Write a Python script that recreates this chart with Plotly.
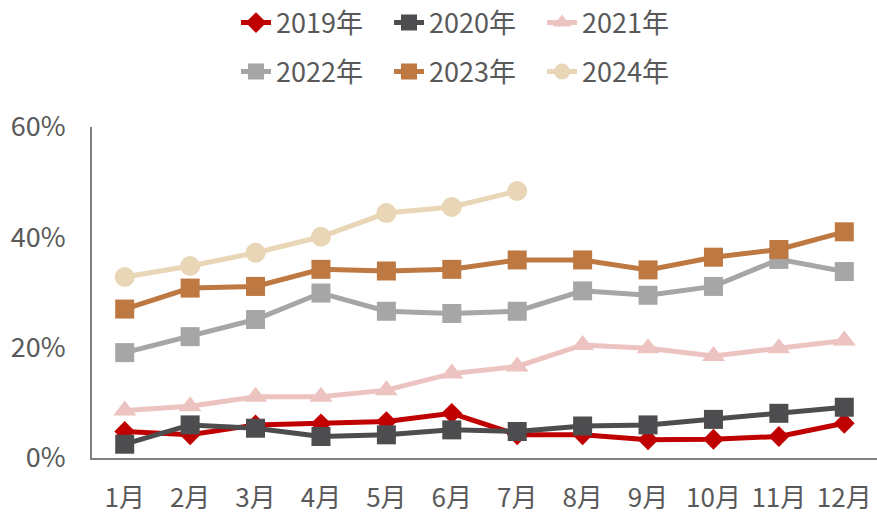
import plotly.graph_objects as go

months = ["1月", "2月", "3月", "4月", "5月", "6月", "7月", "8月", "9月", "10月", "11月", "12月"]

y2019 = [4.8, 4.2, 6.0, 6.2, 6.6, 8.1, 4.2, 4.2, 3.3, 3.4, 3.9, 6.3]
y2020 = [2.5, 6.0, 5.4, 3.9, 4.2, 5.1, 4.8, 5.8, 6.0, 7.0, 8.1, 9.2]
y2021 = [8.6, 9.4, 11.1, 11.1, 12.3, 15.3, 16.6, 20.5, 19.9, 18.5, 19.9, 21.3]
y2022 = [19.1, 22.0, 25.1, 29.9, 26.6, 26.2, 26.6, 30.3, 29.5, 31.1, 36.0, 33.8]
y2023 = [27.0, 30.8, 31.1, 34.2, 33.9, 34.2, 35.9, 35.9, 34.1, 36.4, 37.8, 41.0]
y2024 = [32.8, 34.8, 37.2, 40.1, 44.4, 45.5, 48.4]

series = [
    ("2019年", y2019, "#C00000", "diamond", 16, "legend"),
    ("2020年", y2020, "#4D4D4F", "square", 19, "legend"),
    ("2021年", y2021, "#EDC3C2", "triangle-up", 20, "legend"),
    ("2022年", y2022, "#A6A6A6", "square", 19, "legend2"),
    ("2023年", y2023, "#BE7842", "square", 19, "legend2"),
    ("2024年", y2024, "#E8D6B6", "circle", 20, "legend2"),
]

font_family = "Noto Sans CJK SC, Open Sans, sans-serif"
text_color = "#595959"
fs = 27

W, H = 877, 515
L, T, B = 92, 127, 57
plot_w, plot_h = W - L, H - T - B

fig = go.Figure()
for name, vals, color, symbol, size, lg in series:
    fig.add_trace(go.Scatter(
        x=months[:len(vals)], y=[v / 100 for v in vals], name=name,
        mode="lines+markers", legend=lg,
        line=dict(color=color, width=5),
        marker=dict(color=color, symbol=symbol, size=size),
    ))

legend_common = dict(
    orientation="h", xanchor="left", x=(236 - L) / plot_w, yanchor="middle",
    font=dict(size=fs, color=text_color, family=font_family),
    bgcolor="rgba(0,0,0,0)", itemclick=False, tracegroupgap=0,
    entrywidth=108, entrywidthmode="pixels",
)

fig.update_layout(
    width=W, height=H,
    margin=dict(l=L, r=0, t=T, b=B, autoexpand=False),
    plot_bgcolor="white", paper_bgcolor="white",
    font=dict(family=font_family, size=fs, color=text_color),
    legend=dict(**legend_common, y=1 + (T - 23) / plot_h),
    legend2=dict(**legend_common, y=1 + (T - 72) / plot_h),
)

fig.update_xaxes(
    showgrid=False, showline=True, linecolor="#7F7F7F", linewidth=2,
    ticks="", ticklabelstandoff=16, range=[-0.5, 11.5],
    tickfont=dict(size=26, color=text_color),
)
fig.update_yaxes(
    showgrid=False, showline=True, linecolor="#7F7F7F", linewidth=2,
    ticks="", range=[0, 0.6], tickvals=[0, 0.2, 0.4, 0.6], tickformat=".0%",
    ticklabelstandoff=19, zeroline=False,
    tickfont=dict(size=fs, color=text_color),
)

# drop the browser's default 8px body margin so the figure fills the window
fig.write_html("out.html", config={"displayModeBar": False},
               post_script="document.body.style.margin='0';")
